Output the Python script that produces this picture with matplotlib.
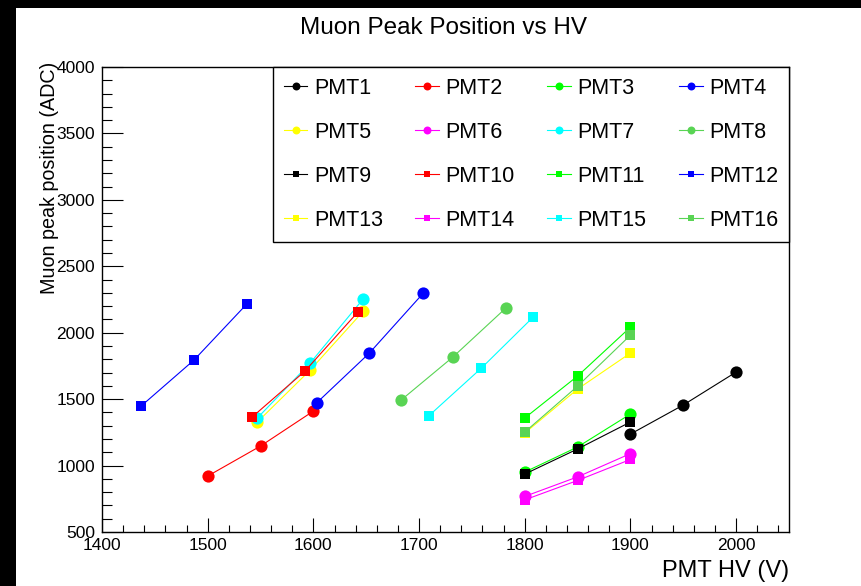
import matplotlib
matplotlib.use('Agg')
from matplotlib import pyplot as plt
from matplotlib.patches import Rectangle
from matplotlib.ticker import MultipleLocator

plt.rcParams['font.family'] = ['Liberation Sans', 'DejaVu Sans']

# HV set points (V) and fitted muon peak (ADC) per PMT
hv_pmt1 = [1900, 1950, 2000]
adc_pmt1 = [1237, 1456, 1704]
hv_pmt2 = [1500, 1550, 1600]
adc_pmt2 = [921, 1147, 1410]
hv_pmt3 = [1800, 1850, 1900]
adc_pmt3 = [951, 1140, 1388]
hv_pmt4 = [1603, 1653, 1704]
adc_pmt4 = [1471, 1847, 2298]
hv_pmt5 = [1547, 1597, 1647]
adc_pmt5 = [1328, 1719, 2160]
hv_pmt6 = [1800, 1850, 1900]
adc_pmt6 = [768, 915, 1090]
hv_pmt7 = [1547, 1597, 1647]
adc_pmt7 = [1358, 1772, 2253]
hv_pmt8 = [1683, 1732, 1782]
adc_pmt8 = [1493, 1817, 2185]
hv_pmt9 = [1800, 1850, 1900]
adc_pmt9 = [936, 1125, 1328]
hv_pmt10 = [1542, 1592, 1642]
adc_pmt10 = [1365, 1711, 2155]
hv_pmt11 = [1800, 1850, 1900]
adc_pmt11 = [1358, 1674, 2042]
hv_pmt12 = [1437, 1487, 1537]
adc_pmt12 = [1448, 1794, 2216]
hv_pmt13 = [1800, 1850, 1900]
adc_pmt13 = [1245, 1576, 1847]
hv_pmt14 = [1800, 1850, 1900]
adc_pmt14 = [742, 888, 1046]
hv_pmt15 = [1709, 1759, 1808]
adc_pmt15 = [1373, 1734, 2118]
hv_pmt16 = [1800, 1850, 1900]
adc_pmt16 = [1252, 1598, 1982]

labels = [f'PMT{i}' for i in range(1, 17)]
hv = [hv_pmt1, hv_pmt2, hv_pmt3, hv_pmt4, hv_pmt5, hv_pmt6, hv_pmt7, hv_pmt8,
      hv_pmt9, hv_pmt10, hv_pmt11, hv_pmt12, hv_pmt13, hv_pmt14, hv_pmt15, hv_pmt16]
adc = [adc_pmt1, adc_pmt2, adc_pmt3, adc_pmt4, adc_pmt5, adc_pmt6, adc_pmt7, adc_pmt8,
       adc_pmt9, adc_pmt10, adc_pmt11, adc_pmt12, adc_pmt13, adc_pmt14, adc_pmt15, adc_pmt16]

# ROOT colour indices 1,2,3,4,5,6,7,8
root_colors = ['#000000', '#ff0000', '#00ff00', '#0000ff',
               '#ffff00', '#ff00ff', '#00ffff', '#59d454']

fig = plt.figure(figsize=(8.62, 5.86), dpi=100)
fig.patch.set_facecolor('white')
# black bands of the original canvas grab
fig.patches.append(Rectangle((0, 1 - 8 / 586), 1, 8 / 586, transform=fig.transFigure,
                             facecolor='black', edgecolor='none', zorder=10))
fig.patches.append(Rectangle((0, 0), 16 / 862, 1, transform=fig.transFigure,
                             facecolor='black', edgecolor='none', zorder=10))

ax = fig.add_axes([102 / 862, 54 / 586, 687 / 862, 465 / 586])

handles = []
for i in range(16):
    color = root_colors[i % 8]
    if i < 8:
        marker, ms = 'o', 8.8
    else:
        marker, ms = 's', 7.4
    h, = ax.plot(hv[i], adc[i], color=color, marker=marker, markersize=ms,
                 markeredgewidth=0, linewidth=0.8, label=labels[i])
    handles.append(h)

ax.set_xlim(1400, 2050)
ax.set_ylim(500, 4000)
ax.xaxis.set_major_locator(MultipleLocator(100))
ax.xaxis.set_minor_locator(MultipleLocator(20))
ax.yaxis.set_major_locator(MultipleLocator(500))
ax.yaxis.set_minor_locator(MultipleLocator(100))
ax.tick_params(axis='both', which='both', direction='in', width=0.8, labelsize=12.5)
ax.tick_params(axis='x', which='major', length=10, pad=4)
ax.tick_params(axis='x', which='minor', length=5)
ax.tick_params(axis='y', which='major', length=15, pad=5)
ax.tick_params(axis='y', which='minor', length=7)
for sp in ax.spines.values():
    sp.set_linewidth(1.0)

fig.text(444 / 862, 1 - 34 / 586, 'Muon Peak Position vs HV', fontsize=17.5,
         ha='center', va='baseline')
fig.text(789 / 862, 1 - 577 / 586, 'PMT HV (V)', fontsize=17,
         ha='right', va='baseline')
fig.text(50 / 862, 1 - 62 / 586, 'Muon peak position (ADC)', fontsize=14.2,
         rotation=90, ha='center', va='top')

# ROOT fills the legend row by row, matplotlib column by column
order = [r * 4 + c for c in range(4) for r in range(4)]
leg = ax.legend([handles[k] for k in order], [labels[k] for k in order],
                loc='upper left', bbox_to_anchor=(171 / 687, 0, 516 / 687, 1.0),
                mode='expand', ncol=4, fontsize=15.5, frameon=True, fancybox=False,
                framealpha=1, edgecolor='black', borderaxespad=0, borderpad=0.5,
                labelspacing=1.07, handlelength=1.1, handletextpad=0.3,
                markerscale=0.65)
leg.get_frame().set_linewidth(1.0)

plt.savefig('out.png', dpi=100)
